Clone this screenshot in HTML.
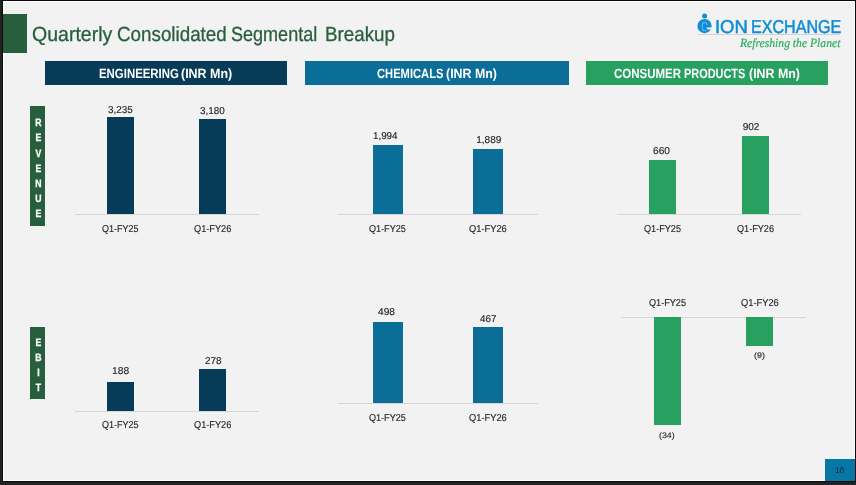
<!DOCTYPE html>
<html lang="en"><head><meta charset="utf-8"><title>Quarterly Consolidated Segmental Breakup</title>
<style>
html,body{margin:0;padding:0}
body{text-rendering:geometricPrecision;width:856px;height:485px;background:#222;overflow:hidden;position:relative;font-family:"Liberation Sans",sans-serif}
main,header,section,figure,footer,aside,h1,h2{display:block;margin:0;padding:0;font-size:0;line-height:0;font-weight:normal}
#frame{position:absolute;left:2px;top:0;width:854px;height:482px;background:#0a0a0a}
#slide{position:absolute;left:3px;top:1px;width:852px;height:480px;background:#f2f2f2;box-shadow:inset 0 0 0 1px #fff}
.b{position:absolute}
.t{position:absolute;white-space:nowrap;transform-origin:0 0;display:block;text-rendering:geometricPrecision}
.side{position:absolute;color:#fff;font-weight:bold;font-size:10.6px;text-align:center;background:#275e3c}
.side span{position:absolute;left:0;width:100%;line-height:1;display:block;transform:scaleX(0.82);-webkit-text-stroke:0.3px #fff}
</style></head><body>
<div id="frame"></div><div id="slide"></div>
<main>
<header>
<div class="b" style="left:3.00px;top:14.00px;width:24.00px;height:39.00px;background:#275e3c"></div>
<h1><span id="t1" class="t" style="left:31.80px;top:25.40px;font:normal normal 20.50px/1 'Liberation Sans', sans-serif;color:#275e3c;transform:scaleX(0.9520);-webkit-text-stroke:0.30px #275e3c">Quarterly</span> <span id="t2" class="t" style="left:116.58px;top:25.40px;font:normal normal 20.50px/1 'Liberation Sans', sans-serif;color:#275e3c;transform:scaleX(0.9168);-webkit-text-stroke:0.30px #275e3c">Consolidated</span> <span id="t3" class="t" style="left:231.12px;top:25.40px;font:normal normal 20.50px/1 'Liberation Sans', sans-serif;color:#275e3c;transform:scaleX(0.8799);-webkit-text-stroke:0.30px #275e3c">Segmental</span> <span id="t4" class="t" style="left:324.65px;top:25.40px;font:normal normal 20.50px/1 'Liberation Sans', sans-serif;color:#275e3c;transform:scaleX(0.9153);-webkit-text-stroke:0.30px #275e3c">Breakup</span></h1>
<div class="logo" aria-label="Ion Exchange">
<svg class="b" style="left:690px;top:8px" width="160" height="50" viewBox="690 8 160 50">
<circle cx="704.6" cy="15.9" r="2.5" fill="#0e8cd8"/>
<circle cx="704.55" cy="26.05" r="7.15" fill="#0e8cd8"/>
<path d="M706.5 27.6 H712.5 V29.5 H708.1 Q706.7 29.3 706.5 27.6 Z" fill="#f2f2f2"/>
<path d="M707.1 24.6 Q707 22.3 704.7 22.3 Q702.3 22.3 702.3 24.8 V28.4 Q702.3 30.8 704.7 30.8 Q705.8 30.8 706.4 30.2" stroke="#d5ecfa" stroke-width="0.55" fill="none" stroke-linecap="round"/>
<path d="M698 34.5 H840" stroke="#c6c6c6" stroke-width="0.7"/>
</svg>
<span id="lg1" class="t" style="left:714.67px;top:17.70px;font:normal normal 18.70px/1 'Liberation Sans', sans-serif;color:#0e8cd8;transform:scaleX(0.9867);-webkit-text-stroke:0.50px #0e8cd8">ION</span> <span id="lg1b" class="t" style="left:750.51px;top:17.70px;font:normal normal 18.70px/1 'Liberation Sans', sans-serif;color:#0e8cd8;transform:scaleX(0.8605);-webkit-text-stroke:0.50px #0e8cd8">EXCHANGE</span>
<span id="lg2" class="t" style="left:739.50px;top:37.00px;font:italic normal 12.50px/1 'Liberation Serif', serif;color:#2dab5e;transform:scaleX(0.9306);-webkit-text-stroke:0.20px #2dab5e">Refreshing the Planet</span>
</div>
</header>
<aside>
<div class="side" aria-label="Revenue" style="left:30.00px;top:106.00px;width:15.00px;height:120.00px"><span style="top:12.20px;left:1.10px">R</span><span style="top:27.37px;left:1.10px">E</span><span style="top:42.54px;left:1.10px">V</span><span style="top:57.71px;left:1.10px">E</span><span style="top:72.88px;left:1.10px">N</span><span style="top:88.05px;left:1.10px">U</span><span style="top:103.22px;left:1.10px">E</span></div>
<div class="side" aria-label="EBIT" style="left:30.00px;top:327.00px;width:15.00px;height:71.70px"><span style="top:11.00px;left:1.10px">E</span><span style="top:26.00px;left:1.10px">B</span><span style="top:41.10px;left:1.10px">I</span><span style="top:56.10px;left:1.10px">T</span></div>
</aside>
<section class="col engineering">
<div class="b" style="left:45.00px;top:61.00px;width:242.00px;height:24.00px;background:#063c57"></div><h2><span id="h1a" class="t" style="left:98.75px;top:66.75px;font:normal bold 13.40px/1 'Liberation Sans', sans-serif;color:#fff;transform:scaleX(0.8522)">ENGINEERING</span> <span id="h1b" class="t" style="left:181.30px;top:66.75px;font:normal bold 13.40px/1 'Liberation Sans', sans-serif;color:#fff;transform:scaleX(0.9299)">(INR Mn)</span></h2>
<figure class="chart" aria-label="engineering revenue">
<div class="b" style="left:74.50px;top:213.75px;width:184.25px;height:1.00px;background:#d6d6d6"></div>
<div class="b" style="left:107.00px;top:117.00px;width:27.25px;height:97.30px;background:#063c57"></div>
<div class="b" style="left:199.25px;top:118.75px;width:27.00px;height:95.55px;background:#063c57"></div>
<span id="v1" class="t" style="left:108.26px;top:106.25px;font:normal normal 10.00px/1 'Liberation Sans', sans-serif;color:#262626;transform:scaleX(0.9896);-webkit-text-stroke:0.15px #262626">3,235</span> <span id="v2" class="t" style="left:200.26px;top:107.25px;font:normal normal 10.00px/1 'Liberation Sans', sans-serif;color:#262626;transform:scaleX(0.9896);-webkit-text-stroke:0.15px #262626">3,180</span> <span id="c1" class="t" style="left:102.05px;top:224.75px;font:normal normal 10.00px/1 'Liberation Sans', sans-serif;color:#262626;transform:scaleX(0.8994);-webkit-text-stroke:0.15px #262626">Q1-FY25</span> <span id="c2" class="t" style="left:194.34px;top:224.75px;font:normal normal 10.00px/1 'Liberation Sans', sans-serif;color:#262626;transform:scaleX(0.9190);-webkit-text-stroke:0.15px #262626">Q1-FY26</span>
</figure>
<figure class="chart" aria-label="engineering ebit">
<div class="b" style="left:75.00px;top:410.75px;width:183.75px;height:1.00px;background:#d6d6d6"></div>
<div class="b" style="left:107.00px;top:382.25px;width:27.25px;height:29.05px;background:#063c57"></div>
<div class="b" style="left:199.25px;top:368.75px;width:27.00px;height:42.55px;background:#063c57"></div>
<span id="v7" class="t" style="left:111.98px;top:367.25px;font:normal normal 10.00px/1 'Liberation Sans', sans-serif;color:#262626;transform:scaleX(1.0323);-webkit-text-stroke:0.15px #262626">188</span> <span id="v8" class="t" style="left:205.00px;top:357.00px;font:normal normal 10.00px/1 'Liberation Sans', sans-serif;color:#262626;transform:scaleX(1.0000);-webkit-text-stroke:0.15px #262626">278</span> <span id="c7" class="t" style="left:102.05px;top:421.00px;font:normal normal 10.00px/1 'Liberation Sans', sans-serif;color:#262626;transform:scaleX(0.8994);-webkit-text-stroke:0.15px #262626">Q1-FY25</span> <span id="c8" class="t" style="left:194.34px;top:421.00px;font:normal normal 10.00px/1 'Liberation Sans', sans-serif;color:#262626;transform:scaleX(0.9190);-webkit-text-stroke:0.15px #262626">Q1-FY26</span>
</figure>
</section>
<section class="col chemicals">
<div class="b" style="left:305.00px;top:61.00px;width:264.00px;height:24.00px;background:#0a6e99"></div><h2><span id="h2a" class="t" style="left:376.58px;top:66.75px;font:normal bold 13.40px/1 'Liberation Sans', sans-serif;color:#fff;transform:scaleX(0.8344)">CHEMICALS</span> <span id="h2b" class="t" style="left:446.06px;top:66.75px;font:normal bold 13.40px/1 'Liberation Sans', sans-serif;color:#fff;transform:scaleX(0.9252)">(INR Mn)</span></h2>
<figure class="chart" aria-label="chemicals revenue">
<div class="b" style="left:337.50px;top:213.75px;width:200.75px;height:1.00px;background:#d6d6d6"></div>
<div class="b" style="left:373.00px;top:145.00px;width:29.50px;height:69.30px;background:#0a6e99"></div>
<div class="b" style="left:473.25px;top:148.50px;width:29.50px;height:65.80px;background:#0a6e99"></div>
<span id="v3" class="t" style="left:373.27px;top:132.25px;font:normal normal 10.00px/1 'Liberation Sans', sans-serif;color:#262626;transform:scaleX(0.9792);-webkit-text-stroke:0.15px #262626">1,994</span> <span id="v4" class="t" style="left:476.25px;top:136.00px;font:normal normal 10.00px/1 'Liberation Sans', sans-serif;color:#262626;transform:scaleX(1.0000);-webkit-text-stroke:0.15px #262626">1,889</span> <span id="c3" class="t" style="left:369.05px;top:224.75px;font:normal normal 10.00px/1 'Liberation Sans', sans-serif;color:#262626;transform:scaleX(0.9057);-webkit-text-stroke:0.15px #262626">Q1-FY25</span> <span id="c4" class="t" style="left:469.03px;top:224.75px;font:normal normal 10.00px/1 'Liberation Sans', sans-serif;color:#262626;transform:scaleX(0.9304);-webkit-text-stroke:0.15px #262626">Q1-FY26</span>
</figure>
<figure class="chart" aria-label="chemicals ebit">
<div class="b" style="left:337.50px;top:402.60px;width:200.75px;height:1.00px;background:#d6d6d6"></div>
<div class="b" style="left:373.00px;top:321.50px;width:29.50px;height:81.50px;background:#0a6e99"></div>
<div class="b" style="left:473.25px;top:326.50px;width:29.50px;height:76.50px;background:#0a6e99"></div>
<span id="v9" class="t" style="left:377.75px;top:308.00px;font:normal normal 10.00px/1 'Liberation Sans', sans-serif;color:#262626;transform:scaleX(1.0156);-webkit-text-stroke:0.15px #262626">498</span> <span id="v10" class="t" style="left:479.75px;top:315.00px;font:normal normal 10.00px/1 'Liberation Sans', sans-serif;color:#262626;transform:scaleX(0.9844);-webkit-text-stroke:0.15px #262626">467</span> <span id="c9" class="t" style="left:369.05px;top:413.75px;font:normal normal 10.00px/1 'Liberation Sans', sans-serif;color:#262626;transform:scaleX(0.9057);-webkit-text-stroke:0.15px #262626">Q1-FY25</span> <span id="c10" class="t" style="left:469.03px;top:413.75px;font:normal normal 10.00px/1 'Liberation Sans', sans-serif;color:#262626;transform:scaleX(0.9304);-webkit-text-stroke:0.15px #262626">Q1-FY26</span>
</figure>
</section>
<section class="col consumer">
<div class="b" style="left:586.00px;top:61.00px;width:242.00px;height:24.00px;background:#28a05f"></div><h2><span id="h3a" class="t" style="left:613.82px;top:66.75px;font:normal bold 13.40px/1 'Liberation Sans', sans-serif;color:#fff;transform:scaleX(0.8576)">CONSUMER</span> <span id="h3b" class="t" style="left:684.18px;top:66.75px;font:normal bold 13.40px/1 'Liberation Sans', sans-serif;color:#fff;transform:scaleX(0.8163)">PRODUCTS</span> <span id="h3c" class="t" style="left:748.56px;top:66.75px;font:normal bold 13.40px/1 'Liberation Sans', sans-serif;color:#fff;transform:scaleX(0.9252)">(INR Mn)</span></h2>
<figure class="chart" aria-label="consumer revenue">
<div class="b" style="left:617.00px;top:213.75px;width:184.25px;height:1.00px;background:#d6d6d6"></div>
<div class="b" style="left:649.25px;top:160.00px;width:27.00px;height:54.30px;background:#28a05f"></div>
<div class="b" style="left:741.75px;top:136.25px;width:27.00px;height:78.05px;background:#28a05f"></div>
<span id="v5" class="t" style="left:653.49px;top:147.25px;font:normal normal 10.00px/1 'Liberation Sans', sans-serif;color:#262626;transform:scaleX(1.0159);-webkit-text-stroke:0.15px #262626">660</span> <span id="v6" class="t" style="left:742.75px;top:123.00px;font:normal normal 10.00px/1 'Liberation Sans', sans-serif;color:#262626;transform:scaleX(1.0000);-webkit-text-stroke:0.15px #262626">902</span> <span id="c5" class="t" style="left:644.29px;top:224.75px;font:normal normal 10.00px/1 'Liberation Sans', sans-serif;color:#262626;transform:scaleX(0.9119);-webkit-text-stroke:0.15px #262626">Q1-FY25</span> <span id="c6" class="t" style="left:736.54px;top:224.75px;font:normal normal 10.00px/1 'Liberation Sans', sans-serif;color:#262626;transform:scaleX(0.9114);-webkit-text-stroke:0.15px #262626">Q1-FY26</span>
</figure>
<figure class="chart" aria-label="consumer ebit">
<div class="b" style="left:621.25px;top:316.75px;width:184.25px;height:1.00px;background:#d6d6d6"></div>
<div class="b" style="left:654.00px;top:317.20px;width:27.00px;height:107.80px;background:#28a05f"></div>
<div class="b" style="left:746.00px;top:317.20px;width:27.00px;height:28.55px;background:#28a05f"></div>
<span id="c11" class="t" style="left:648.54px;top:299.25px;font:normal normal 10.00px/1 'Liberation Sans', sans-serif;color:#262626;transform:scaleX(0.9119);-webkit-text-stroke:0.15px #262626">Q1-FY25</span> <span id="c12" class="t" style="left:740.53px;top:299.25px;font:normal normal 10.00px/1 'Liberation Sans', sans-serif;color:#262626;transform:scaleX(0.9304);-webkit-text-stroke:0.15px #262626">Q1-FY26</span> <span id="v11" class="t" style="left:659.45px;top:432.00px;font:normal normal 8.00px/1 'Liberation Sans', sans-serif;color:#262626;transform:scaleX(1.0943);-webkit-text-stroke:0.15px #262626">(34)</span> <span id="v12" class="t" style="left:753.94px;top:352.00px;font:normal normal 8.00px/1 'Liberation Sans', sans-serif;color:#262626;transform:scaleX(1.1143);-webkit-text-stroke:0.15px #262626">(9)</span>
</figure>
</section>
<footer><div class="b" style="left:825.00px;top:459.00px;width:30.00px;height:22.00px;background:#0778a6"></div><span id="pg" class="t" style="left:835.39px;top:466.80px;font:normal normal 8.10px/1 'Liberation Sans', sans-serif;color:#0a1a2a;transform:scaleX(1.0182)">10</span></footer>
</main>
</body></html>
